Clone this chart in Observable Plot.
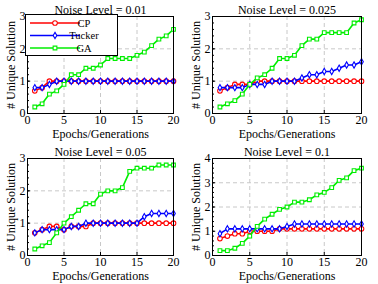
<!DOCTYPE html>
<html>
<head>
<meta charset="utf-8">
<script src="https://cdn.jsdelivr.net/npm/d3@7"></script>
<script src="https://cdn.jsdelivr.net/npm/@observablehq/plot@0.6"></script>
<style>
  body { margin: 0; background: #fff; }
  #wrap { position: relative; width: 378px; height: 284px; overflow: hidden; }
  .panel { position: absolute; }
  .panel svg { overflow: visible; font-family: "Liberation Serif", "Times New Roman", serif !important; }
  .panel svg text { font-family: "Liberation Serif", "Times New Roman", serif !important; }
</style>
</head>
<body>
<div id="wrap"></div>
<script>
const epochs = [1,2,3,4,5,6,7,8,9,10,11,12,13,14,15,16,17,18,19,20];
const methods = ["CP", "Tucker", "GA"];
const colors = ["#ff0000", "#0000ff", "#00ee00"];
const symbols = ["circle", "diamond", "square"];
const titles = ["Noise Level = 0.01", "Noise Level = 0.025", "Noise Level = 0.05", "Noise Level = 0.1"];
const xTicks = [0, 5, 10, 15, 20];

const cp001     = [0.7,0.8,1.0,1.0,1.0,1.0,1.0,1.0,1.0,1.0,1.0,1.0,1.0,1.0,1.0,1.0,1.0,1.0,1.0,1.0];
const tucker001 = [0.8,0.8,0.9,1.0,1.0,1.0,1.0,1.0,1.0,1.0,1.0,1.0,1.0,1.0,1.0,1.0,1.0,1.0,1.0,1.0];
const ga001     = [0.2,0.3,0.6,0.7,0.9,1.2,1.2,1.4,1.4,1.5,1.7,1.7,1.7,1.7,1.8,1.9,2.1,2.3,2.4,2.6];

const cp0025     = [0.7,0.8,0.9,0.9,0.9,1.0,1.0,1.0,1.0,1.0,1.0,1.0,1.0,1.0,1.0,1.0,1.0,1.0,1.0,1.0];
const tucker0025 = [0.8,0.8,0.8,0.8,0.9,0.9,0.9,1.0,1.0,1.0,1.0,1.1,1.2,1.2,1.3,1.3,1.4,1.5,1.5,1.6];
const ga0025     = [0.2,0.3,0.4,0.6,0.9,1.1,1.2,1.4,1.7,1.7,1.8,2.1,2.3,2.3,2.5,2.5,2.5,2.5,2.8,2.9];

const cp005     = [0.7,0.8,0.9,0.9,0.8,0.9,0.9,0.9,1.0,1.0,1.0,1.0,1.0,1.0,1.0,1.0,1.0,1.0,1.0,1.0];
const tucker005 = [0.7,0.8,0.8,0.8,0.8,0.9,0.9,1.0,1.0,1.0,1.0,1.0,1.0,1.0,1.0,1.2,1.3,1.3,1.3,1.3];
const ga005     = [0.2,0.3,0.4,0.7,1.0,1.2,1.4,1.6,1.6,1.9,2.0,2.0,2.1,2.6,2.7,2.7,2.7,2.8,2.8,2.8];

const cp01     = [0.7,0.8,0.9,0.9,1.0,1.0,1.0,1.0,1.1,1.1,1.1,1.1,1.1,1.1,1.1,1.1,1.1,1.1,1.1,1.1];
const tucker01 = [0.9,1.1,1.1,1.1,1.1,1.1,1.1,1.1,1.1,1.2,1.3,1.3,1.3,1.3,1.3,1.3,1.3,1.3,1.3,1.3];
const ga01     = [0.2,0.2,0.3,0.5,0.8,1.2,1.5,1.7,1.9,2.0,2.2,2.2,2.3,2.5,2.6,2.8,3.1,3.2,3.5,3.6];

const panels = [
  {series: [cp001, tucker001, ga001], yMax: 3},
  {series: [cp0025, tucker0025, ga0025], yMax: 3},
  {series: [cp005, tucker005, ga005], yMax: 3},
  {series: [cp01, tucker01, ga01], yMax: 4}
];

const layout = [
  {left: 0,   top: 0,   mL: 27, mR: 16, mT: 16, mB: 29},
  {left: 189, top: 0,   mL: 23, mR: 17, mT: 16, mB: 29},
  {left: 0,   top: 142, mL: 27, mR: 16, mT: 16, mB: 29},
  {left: 189, top: 142, mL: 23, mR: 17, mT: 16, mB: 29}
];

const font = "Liberation Serif, Times New Roman, serif";
const sizes = [2.3, 1.9, 2.1];
const wrap = document.getElementById("wrap");

panels.forEach((p, i) => {
  const L = layout[i];
  const rows = [];
  methods.forEach((m, k) => {
    epochs.forEach((e, j) => rows.push({method: m, epoch: e, value: p.series[k][j]}));
  });
  const yTicks = d3.range(0, p.yMax + 1);
  const yMinor = d3.range(0, p.yMax * 5 + 1).map(v => v / 5);
  const marks = [
    Plot.gridX(xTicks, {stroke: "#c8c8c8", strokeOpacity: 1, strokeDasharray: "4,3"}),
    Plot.gridY(yTicks, {stroke: "#c8c8c8", strokeOpacity: 1, strokeDasharray: "4,3"})
  ];
  methods.forEach((m, k) => {
    const d = rows.filter(r => r.method === m);
    marks.push(Plot.line(d, {x: "epoch", y: "value", stroke: colors[k], strokeWidth: 1.6}));
    marks.push(Plot.dot(d, {x: "epoch", y: "value", symbol: () => symbols[k], stroke: colors[k], fill: "white", r: sizes[k], strokeWidth: 1.1}));
  });
  marks.push(
    Plot.axisX(xTicks, {tickSize: -3, tickPadding: 5, fontSize: 12, label: "Epochs/Generations", labelAnchor: "center", labelArrow: "none", labelOffset: 24}),
    Plot.axisY(yMinor, {tickSize: -2, text: null, label: null}),
    Plot.axisY(yTicks, {tickSize: -3, tickPadding: 5, fontSize: 12, label: "# Unique Solution", labelAnchor: "center", labelArrow: "none", labelOffset: 21}),
    Plot.frame({stroke: "black", strokeWidth: 1}),
    Plot.text([titles[i]], {frameAnchor: "top", lineAnchor: "bottom", dy: -3, fontSize: 12, fill: "black"})
  );
  const chart = Plot.plot({
    width: 189, height: 142,
    marginLeft: L.mL, marginRight: L.mR, marginTop: L.mT, marginBottom: L.mB,
    x: {domain: [0, 20]},
    y: {domain: [0, p.yMax]},
    style: {fontFamily: font, fontSize: "12px", color: "black", background: "transparent"},
    marks
  });
  const div = document.createElement("div");
  div.className = "panel";
  div.style.left = L.left + "px";
  div.style.top = L.top + "px";
  div.appendChild(chart);
  wrap.appendChild(div);

  if (i === 0) {
    const svg = d3.select(chart);
    const g = svg.append("g").attr("font-family", font).attr("font-size", 10.5);
    g.append("rect").attr("x", 25.5).attr("y", 14.5).attr("width", 92).attr("height", 41)
      .attr("fill", "white").attr("stroke", "black").attr("stroke-width", 1);
    const symGen = {circle: d3.symbolCircle, diamond: d3.symbolDiamond, square: d3.symbolSquare};
    methods.forEach((m, k) => {
      const yy = 23 + k * 12.5;
      g.append("line").attr("x1", 30).attr("x2", 80).attr("y1", yy).attr("y2", yy)
        .attr("stroke", colors[k]).attr("stroke-width", 1.6);
      const size = sizes[k];
      g.append("path").attr("transform", `translate(55,${yy})`)
        .attr("d", d3.symbol(symGen[symbols[k]], Math.PI * size * size)())
        .attr("fill", "white").attr("stroke", colors[k]).attr("stroke-width", 1.1);
      g.append("text").attr("x", 84).attr("y", yy).attr("dy", "0.35em").attr("fill", "black").text(m);
    });
  }
});
</script>
</body>
</html>
